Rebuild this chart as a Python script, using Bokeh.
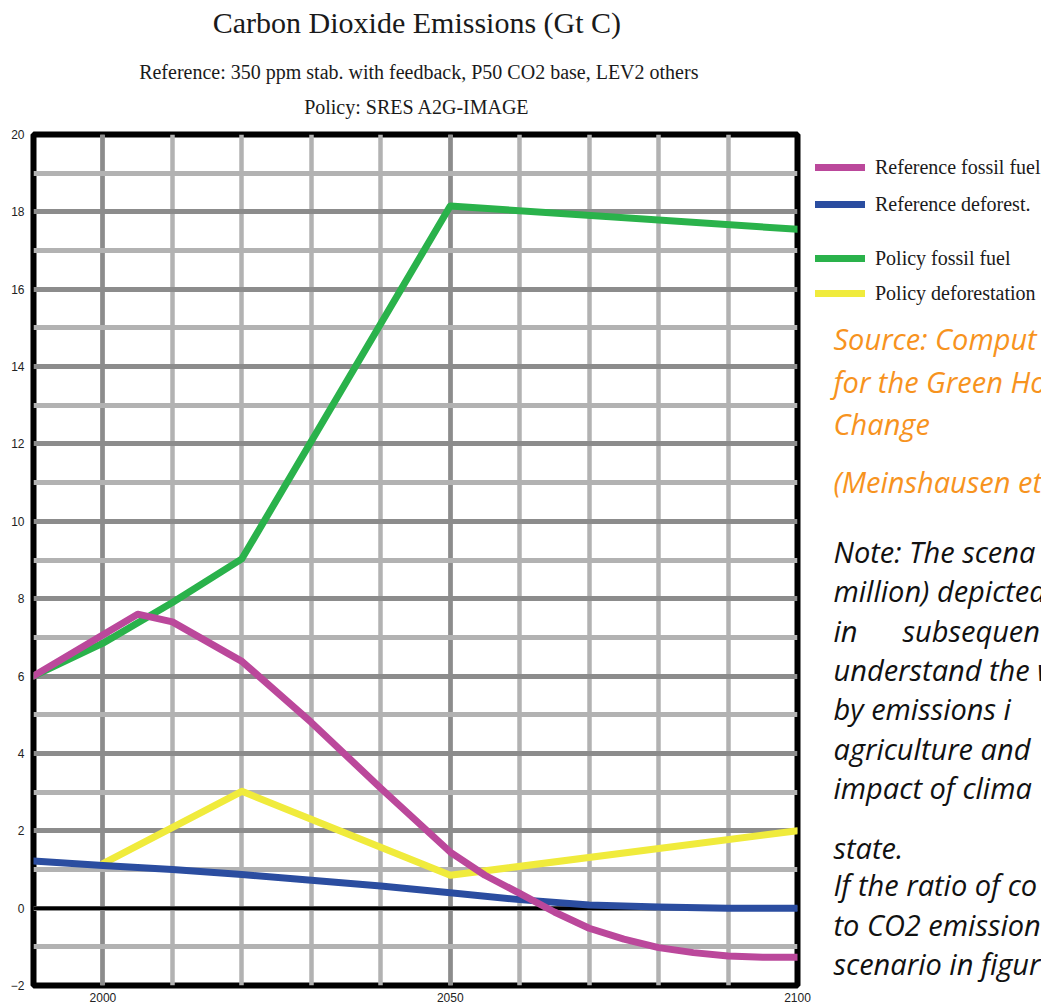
from bokeh.plotting import figure
from bokeh.models import Range1d, FixedTicker, Span, Legend, LegendItem
from bokeh.layouts import row, column
from bokeh.core.properties import value
from bokeh.embed import file_html
from bokeh.resources import INLINE

# ---------------- data ----------------
years_ref_fossil = [1990, 2005, 2010, 2020, 2030, 2040, 2050, 2055, 2060,
                    2065, 2070, 2075, 2080, 2085, 2090, 2095, 2100]
ref_fossil = [6.0, 7.6, 7.4, 6.38, 4.8, 3.1, 1.45, 0.85, 0.38,
              -0.1, -0.52, -0.8, -1.02, -1.15, -1.24, -1.27, -1.27]

years_ref_defor = [1990, 2000, 2010, 2020, 2030, 2040, 2050, 2060, 2070, 2080, 2090, 2100]
ref_defor = [1.22, 1.1, 1.0, 0.87, 0.72, 0.57, 0.4, 0.22, 0.08, 0.03, 0.0, 0.0]

years_pol_fossil = [1990, 2000, 2010, 2020, 2050, 2100]
pol_fossil = [6.0, 6.85, 7.9, 9.03, 18.15, 17.55]

years_pol_defor = [2000, 2020, 2050, 2100]
pol_defor = [1.15, 3.02, 0.85, 2.0]

x_major_ticks = [2000, 2050, 2100]
x_minor_ticks = [1990, 2000, 2010, 2020, 2030, 2040, 2050, 2060, 2070, 2080, 2090, 2100]
y_major_ticks = [-2, 0, 2, 4, 6, 8, 10, 12, 14, 16, 18, 20]
y_minor_ticks = [-1, 1, 3, 5, 7, 9, 11, 13, 15, 17, 19]

title_lines = ["Carbon Dioxide Emissions (Gt C)",
               "Reference: 350 ppm stab. with feedback, P50 CO2 base, LEV2 others",
               "Policy: SRES A2G-IMAGE"]

labels_reference = ["Reference fossil fuel", "Reference deforest."]
labels_policy = ["Policy fossil fuel", "Policy deforestation"]

source_lines = ["Source:  Comput", "for the Green Hou", "Change", "(Meinshausen et"]
note_lines = ["Note: The scena", "million) depicted", "in", "subsequen", "understand the w",
              "by emissions i", "agriculture and", "impact of clima", "state.",
              "If the ratio of co", "to CO2 emission", "scenario in figur"]

# ---------------- layout constants (pixels) ----------------
TOTAL_W, TOTAL_H = 1041, 1004
TITLE_H = 126
MAIN_W = 813
SIDE_W = TOTAL_W - MAIN_W
MAIN_H = TOTAL_H - TITLE_H
FL, FR = 33, 797            # frame left/right inside main figure
FT, FB = 8, 863             # frame top/bottom inside main figure

MAGENTA = "#bb489b"
BLUE = "#2b4da0"
GREEN = "#2ab24b"
YELLOW = "#f0eb3c"
ORANGE = "#f7931e"

# ---------------- title strip ----------------
t = figure(width=MAIN_W, height=TITLE_H, output_backend="svg", toolbar_location=None,
           x_range=Range1d(0, MAIN_W), y_range=Range1d(TITLE_H, 0),
           x_axis_type=None, y_axis_type=None,
           min_border=0, min_border_left=0, min_border_right=0,
           min_border_top=0, min_border_bottom=0)
t.outline_line_color = None
t.background_fill_color = "white"
t.border_fill_color = "white"
cx = 408
t.text(x=[cx], y=[22], text=[title_lines[0]], text_font=value("Liberation Serif"),
       text_font_size="30px", text_color="#1a1a1a", text_align="center", text_baseline="middle")
t.text(x=[cx + 2, cx], y=[71, 106], text=title_lines[1:], text_font=value("Liberation Serif"),
       text_font_size="20px", text_color="#1a1a1a", text_align="center", text_baseline="middle")

# ---------------- main chart ----------------
p = figure(width=MAIN_W, height=MAIN_H, output_backend="svg", toolbar_location=None,
           x_range=Range1d(1990, 2100), y_range=Range1d(-2, 20),
           min_border_left=FL, min_border_right=MAIN_W - FR,
           min_border_top=FT, min_border_bottom=MAIN_H - FB)
p.background_fill_color = "white"
p.border_fill_color = "white"
p.outline_line_color = "black"
p.outline_line_width = 6

for ax in (p.xaxis, p.yaxis):
    ax.axis_line_color = None
    ax.major_tick_line_color = None
    ax.minor_tick_line_color = None
    ax.major_label_text_font = "Liberation Sans"
    ax.major_label_text_color = "#222222"
p.xaxis.ticker = FixedTicker(ticks=x_major_ticks, minor_ticks=x_minor_ticks)
p.yaxis.ticker = FixedTicker(ticks=y_major_ticks, minor_ticks=y_minor_ticks)
p.xaxis.major_label_text_font_size = "12px"
p.xaxis.major_label_standoff = 1
p.yaxis.major_label_text_font_size = "12px"
p.yaxis.major_label_standoff = 3

p.xgrid.ticker = p.xaxis.ticker
p.ygrid.ticker = p.yaxis.ticker
p.xgrid.grid_line_color = "#8c8c8c"
p.xgrid.grid_line_width = 4.5
p.xgrid.minor_grid_line_color = "#b2b2b2"
p.xgrid.minor_grid_line_width = 4.5
p.ygrid.grid_line_color = "#8c8c8c"
p.ygrid.grid_line_width = 5
p.ygrid.minor_grid_line_color = "#b2b2b2"
p.ygrid.minor_grid_line_width = 5

p.add_layout(Span(location=0, dimension="width", line_color="black",
                  line_width=3.5, level="underlay"))

kw = dict(line_width=7, line_join="round", line_cap="round")
p.line(years_pol_fossil, pol_fossil, line_color=GREEN, **kw)
p.line(years_pol_defor, pol_defor, line_color=YELLOW, **kw)
p.line(years_ref_defor, ref_defor, line_color=BLUE, **kw)
p.line(years_ref_fossil, ref_fossil, line_color=MAGENTA, **kw)

# ---------------- right side: legend and notes ----------------
s = figure(width=SIDE_W, height=TOTAL_H, output_backend="svg", toolbar_location=None,
           x_range=Range1d(0, SIDE_W), y_range=Range1d(TOTAL_H, 0),
           x_axis_type=None, y_axis_type=None,
           min_border=0, min_border_left=0, min_border_right=0,
           min_border_top=0, min_border_bottom=0)
s.outline_line_color = None
s.background_fill_color = "white"
s.border_fill_color = "white"

# legend keys styled like the chart's lines (a single NaN point: nothing is plotted)
nan = float("nan")
k_rf = s.line(x=[nan], y=[nan], line_color=MAGENTA, **kw)
k_rd = s.line(x=[nan], y=[nan], line_color=BLUE, **kw)
k_pf = s.line(x=[nan], y=[nan], line_color=GREEN, **kw)
k_pd = s.line(x=[nan], y=[nan], line_color=YELLOW, **kw)

def make_legend(items, loc, spacing):
    return Legend(items=items, location=loc, orientation="vertical",
                  padding=0, margin=0, spacing=spacing,
                  glyph_width=50, glyph_height=24, label_height=24, label_standoff=10,
                  label_text_font="Liberation Serif", label_text_font_size="20px",
                  label_text_color="#1a1a1a",
                  border_line_alpha=0, background_fill_alpha=0)

s.add_layout(make_legend([LegendItem(label=labels_reference[0], renderers=[k_rf]),
                          LegendItem(label=labels_reference[1], renderers=[k_rd])],
                         (2, 788), 13))
s.add_layout(make_legend([LegendItem(label=labels_policy[0], renderers=[k_pf]),
                          LegendItem(label=labels_policy[1], renderers=[k_pd])],
                         (2, 699), 11))

src_x = [20, 20, 20, 20]
src_y = [338, 381, 423, 481]
s.text(x=src_x, y=src_y, text=source_lines, text_font=value("Open Sans"),
       text_font_style="italic", text_font_size="29px", text_color=ORANGE,
       text_align="left", text_baseline="middle")

note_x = [20, 20, 20, 89, 20, 20, 20, 20, 20, 20, 20, 20]
note_y = [551, 590, 630, 630, 669, 708, 748, 787, 847, 884, 924, 963]
s.text(x=note_x, y=note_y, text=note_lines, text_font=value("Open Sans"),
       text_font_style="italic", text_font_size="29px", text_color="#111111",
       text_align="left", text_baseline="middle")

layout = row(column(t, p, spacing=0), s, spacing=0)
open("out.html", "w").write(file_html(layout, INLINE))
